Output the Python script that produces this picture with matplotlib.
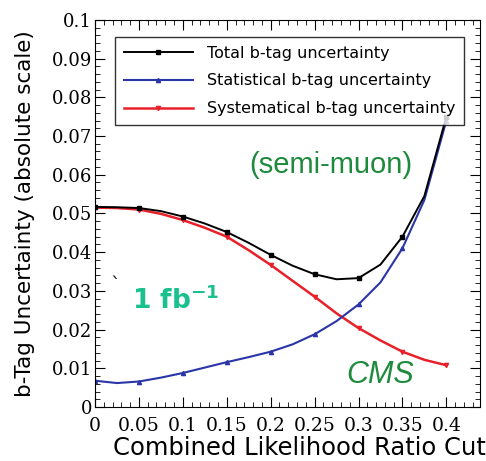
import matplotlib
matplotlib.use('Agg')
import matplotlib.pyplot as plt
from matplotlib.ticker import MultipleLocator

# cut values
cut = [0, 0.025, 0.05, 0.075, 0.1, 0.125, 0.15, 0.175, 0.2, 0.225,
       0.25, 0.275, 0.3, 0.325, 0.35, 0.375, 0.4]

total = [0.0517, 0.0516, 0.0514, 0.0506, 0.0492, 0.0474, 0.0452, 0.0424, 0.0393,
         0.0365, 0.0343, 0.0330, 0.0333, 0.0368, 0.0440, 0.0545, 0.0750]
stat = [0.0068, 0.0062, 0.0066, 0.0076, 0.0088, 0.0102, 0.0116, 0.0129, 0.0143,
        0.0162, 0.0188, 0.0222, 0.0265, 0.0322, 0.0410, 0.0535, 0.0740]
syst = [0.0515, 0.0514, 0.0510, 0.0499, 0.0483, 0.0463, 0.0440, 0.0405, 0.0367,
        0.0326, 0.0285, 0.0242, 0.0204, 0.0172, 0.0143, 0.0122, 0.0108]

labels = ['Total b-tag uncertainty', 'Statistical b-tag uncertainty',
          'Systematical b-tag uncertainty']

fig = plt.figure(figsize=(4.86, 4.61), dpi=100)
ax = fig.add_axes([0.1955, 0.117, 0.7925, 0.84])

ax.plot(cut, syst, color='#e8202a', lw=1.8, marker='v', ms=3, markevery=2, label=labels[2])
ax.plot(cut, stat, color='#2a35a8', lw=1.5, marker='^', ms=3, markevery=2, label=labels[1])
ax.plot(cut, total, color='black', lw=1.4, marker='s', ms=3, markevery=2, label=labels[0])

ax.set_xlim(0, 0.4385)
ax.set_ylim(0, 0.1)
ax.xaxis.set_minor_locator(MultipleLocator(0.01))
ax.yaxis.set_minor_locator(MultipleLocator(0.002))
ax.tick_params(which='both', direction='in', top=True, right=True)
ax.tick_params(which='major', length=7)
ax.tick_params(which='minor', length=3.5)
ax.tick_params(axis='x', which='major', pad=7)
ax.tick_params(axis='y', which='major', pad=2)
ax.set_xticks([0, 0.05, 0.1, 0.15, 0.2, 0.25, 0.3, 0.35, 0.4])
ax.set_xticklabels(['0', '0.05', '0.1', '0.15', '0.2', '0.25', '0.3', '0.35', '0.4'],
                   family='DejaVu Serif', fontsize=13.5)
ax.set_yticks([0, 0.01, 0.02, 0.03, 0.04, 0.05, 0.06, 0.07, 0.08, 0.09, 0.1])
ax.set_yticklabels(['0', '0.01', '0.02', '0.03', '0.04', '0.05', '0.06', '0.07',
                    '0.08', '0.09', '0.1'], family='DejaVu Serif', fontsize=13)

ax.set_xlabel('Combined Likelihood Ratio Cut', fontsize=17.5, labelpad=-3)
ax.xaxis.set_label_coords(0.53, -0.075)
ax.set_ylabel('b-Tag Uncertainty (absolute scale)', fontsize=15.5, labelpad=12)

h, l = ax.get_legend_handles_labels()
leg = ax.legend(h[::-1], l[::-1], loc='upper left', bbox_to_anchor=(0.052, 0.956),
                fontsize=11.5, frameon=True, fancybox=False, edgecolor='black',
                handlelength=4.3, handletextpad=0.9, borderpad=0.55, labelspacing=0.8,
                borderaxespad=0)
leg.get_frame().set_linewidth(1.0)

ax.text(0.268, 0.0625, '(semi-muon)', color='#1e8a3c', fontsize=21,
        ha='center', va='center', family='Liberation Sans')
ax.text(0.023, 0.0315, '`', color='#222222', fontsize=14, ha='center', va='center')
ax.text(0.092, 0.0275, r'1 fb$^{\mathbf{-1}}$', color='#19c18f', fontsize=19,
        fontweight='bold', ha='center', va='center')
ax.text(0.325, 0.0083, 'CMS', color='#1e8a3c', fontsize=22, style='italic',
        ha='center', va='center', family='Liberation Sans')

fig.savefig('out.png', dpi=100)
